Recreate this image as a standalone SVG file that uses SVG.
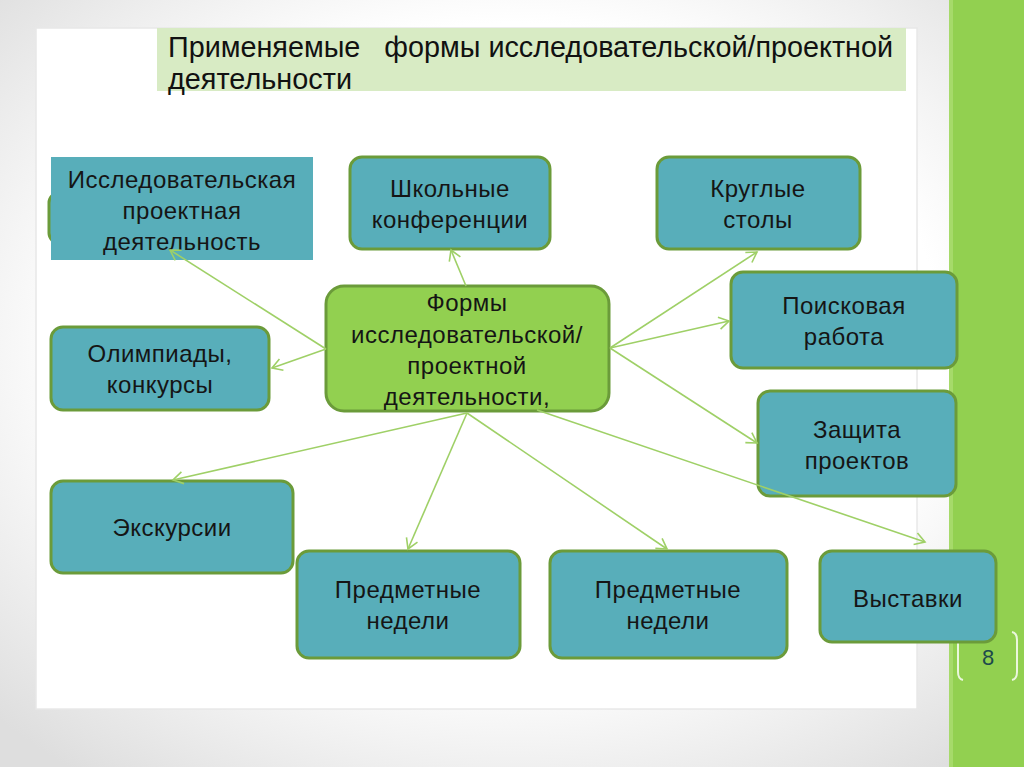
<svg xmlns="http://www.w3.org/2000/svg" width="1024" height="767" viewBox="0 0 1024 767">
<defs>
<radialGradient id="bg" cx="50%" cy="45%" r="70%">
<stop offset="0.6" stop-color="#ffffff"/>
<stop offset="1" stop-color="#dedede"/>
</radialGradient>
<marker id="arr" markerWidth="16" markerHeight="16" refX="13" refY="8" orient="auto" markerUnits="userSpaceOnUse">
<path d="M3,2 L13,8 L3,14" fill="none" stroke="#9fd067" stroke-width="1.6"/>
</marker>
<style>
.box{fill:#58aeba;stroke:#6b9b3a;stroke-width:3}
.t{font-family:"Liberation Sans",Arial,sans-serif;font-size:24px;letter-spacing:0.5px;fill:#151515;text-anchor:middle}
.c{stroke:#9fd067;stroke-width:1.6;fill:none;marker-end:url(#arr)}
</style>
</defs>
<rect width="1024" height="767" fill="url(#bg)"/>
<rect x="36" y="28" width="881" height="681" fill="#ffffff" stroke="#e8e8e8" stroke-width="1.5"/>
<rect x="949" y="0" width="75" height="767" fill="#92d050"/>
<rect x="949" y="0" width="4" height="767" fill="#a6da6a"/>
<g id="title">
<rect x="157" y="28" width="749" height="63" fill="#d8ebc4"/>
<text x="168" y="57" xml:space="preserve" style="white-space:pre" font-family="'Liberation Sans',Arial,sans-serif" font-size="30" fill="#111" textLength="725" lengthAdjust="spacingAndGlyphs">Применяемые   формы исследовательской/проектной</text>
<text x="168" y="89" font-family="'Liberation Sans',Arial,sans-serif" font-size="30" fill="#111" textLength="184" lengthAdjust="spacingAndGlyphs">деятельности</text>
</g>
<g id="page-number">
<path d="M963,632 Q958,633 958,640 L958,672 Q958,679 963,680" fill="none" stroke="#eaf6dc" stroke-width="2"/>
<path d="M1012,632 Q1017,633 1017,640 L1017,672 Q1017,679 1012,680" fill="none" stroke="#eaf6dc" stroke-width="2"/>
<text x="988" y="665" font-family="'Liberation Sans',Arial,sans-serif" font-size="22" fill="#1d4a4c" text-anchor="middle">8</text>
</g>
<g id="n-issl">
<rect x="49" y="193" width="30" height="50" rx="10" class="box"/>
<rect x="51" y="157" width="262" height="103" fill="#58aeba"/>
<text class="t" x="182" y="188">Исследовательская</text>
<text class="t" x="182" y="219">проектная</text>
<text class="t" x="182" y="250">деятельность</text>
</g>
<g id="n-shk">
<rect x="350" y="157" width="200" height="92" rx="12" class="box"/>
<text class="t" x="450" y="197">Школьные</text>
<text class="t" x="450" y="228">конференции</text>
</g>
<g id="n-krug">
<rect x="657" y="157" width="203" height="92" rx="12" class="box"/>
<text class="t" x="758" y="197">Круглые</text>
<text class="t" x="758" y="228">столы</text>
</g>
<g id="n-poisk">
<rect x="731" y="272" width="226" height="96" rx="12" class="box"/>
<text class="t" x="844" y="314">Поисковая</text>
<text class="t" x="844" y="345">работа</text>
</g>
<g id="n-zash">
<rect x="758" y="391" width="198" height="105" rx="12" class="box"/>
<text class="t" x="857" y="438">Защита</text>
<text class="t" x="857" y="469">проектов</text>
</g>
<g id="n-vyst">
<rect x="820" y="551" width="176" height="91" rx="12" class="box"/>
<text class="t" x="908" y="607">Выставки</text>
</g>
<g id="n-pred2">
<rect x="550" y="551" width="237" height="107" rx="12" class="box"/>
<text class="t" x="668" y="598">Предметные</text>
<text class="t" x="668" y="629">недели</text>
</g>
<g id="n-pred1">
<rect x="297" y="551" width="223" height="107" rx="12" class="box"/>
<text class="t" x="408" y="598">Предметные</text>
<text class="t" x="408" y="629">недели</text>
</g>
<g id="n-eksk">
<rect x="51" y="481" width="242" height="92" rx="12" class="box"/>
<text class="t" x="172" y="536">Экскурсии</text>
</g>
<g id="n-olimp">
<rect x="51" y="327" width="218" height="83" rx="12" class="box"/>
<text class="t" x="160" y="362">Олимпиады,</text>
<text class="t" x="160" y="393">конкурсы</text>
</g>
<g id="n-center">
<rect x="326" y="286" width="283" height="125" rx="18" fill="#92d050" stroke="#6b9b3a" stroke-width="3"/>
<text class="t" x="467" y="311">Формы</text>
<text class="t" x="467" y="343">исследовательской/</text>
<text class="t" x="467" y="374">проектной</text>
<text class="t" x="467" y="405">деятельности,</text>
</g>
<g id="connectors">
<line class="c" x1="326" y1="349" x2="170" y2="250"/>
<line class="c" x1="326" y1="349" x2="272" y2="368"/>
<line class="c" x1="466" y1="286" x2="451" y2="250"/>
<line class="c" x1="610" y1="348" x2="757" y2="252"/>
<line class="c" x1="610" y1="348" x2="729" y2="321"/>
<line class="c" x1="610" y1="348" x2="757" y2="443"/>
<line class="c" x1="467" y1="413" x2="173" y2="480"/>
<line class="c" x1="467" y1="413" x2="408" y2="549"/>
<line class="c" x1="467" y1="413" x2="667" y2="549"/>
<line class="c" x1="537" y1="410" x2="925" y2="542"/>
</g>
</svg>
